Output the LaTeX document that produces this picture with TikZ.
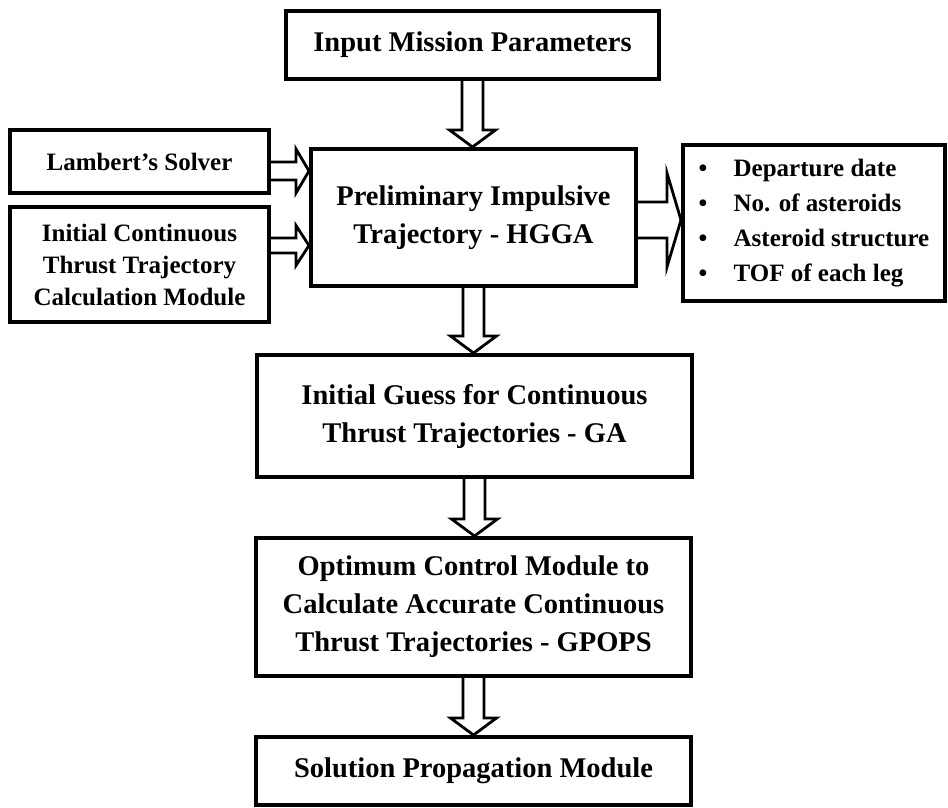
\documentclass[tikz,border=0pt]{standalone}
\usepackage{fontspec}
\setmainfont{Liberation Serif}
\usetikzlibrary{calc}
\newcommand\hollowdown[2]{%
  \draw[blockarrow] let \p1=(#1.south), \p2=(#2.north) in
    (\x1-10.5pt,\y1) -- (\x1-10.5pt,\y2+17pt) -- (\x1-23pt,\y2+17pt) -- (\x1,\y2)
    -- (\x1+23pt,\y2+17pt) -- (\x1+10.5pt,\y2+17pt) -- (\x1+10.5pt,\y1);}
\newcommand\hollowright[6]{%
  \draw[blockarrow] let \p1=($(#1.east)+(0,#3)$), \p2=(#2.west) in
    (\x1,\y1+#4pt) -- (\x2-#6pt,\y1+#4pt) -- (\x2-#6pt,\y1+#5pt) -- (\x2,\y1)
    -- (\x2-#6pt,\y1-#5pt) -- (\x2-#6pt,\y1-#4pt) -- (\x1,\y1-#4pt);}
\begin{document}
\begin{tikzpicture}[x=1pt,y=-1pt,
  box/.style={draw, line width=4pt, align=center, inner sep=0pt,
    font=\fontsize{28.5pt}{38pt}\selectfont\bfseries},
  sidebox/.style={box, font=\fontsize{25pt}{32pt}\selectfont\bfseries},
  listbox/.style={box, align=left, font=\fontsize{25pt}{35pt}\selectfont\bfseries},
  blockarrow/.style={draw, line width=2.8pt, line join=miter}]
\useasboundingbox (0,0) rectangle (948,808);
\node[box, minimum width=373pt, minimum height=68pt] (inp) at (472.5,45) {Input Mission Parameters};
\node[sidebox, minimum width=259pt, minimum height=63pt] (lam) at (139.5,161.5) {Lambert’s Solver};
\node[sidebox, minimum width=259pt, minimum height=115pt] (icm) at (139.5,264.5) {Initial Continuous\\Thrust Trajectory\\Calculation Module};
\node[box, minimum width=325pt, minimum height=137pt] (pre) at (473.5,217.5) {Preliminary Impulsive\\Trajectory - HGGA};
\node[listbox, minimum width=262pt, minimum height=156pt] (out) at (814,223)
  {\makebox[35pt][l]{•}Departure date\\\makebox[35pt][l]{•}No. of asteroids\\\makebox[35pt][l]{•}Asteroid structure\\\makebox[35pt][l]{•}TOF of each leg};
\node[box, minimum width=435pt, minimum height=122pt] (gue) at (474.5,416) {Initial Guess for Continuous\\Thrust Trajectories - GA};
\node[box, minimum width=435pt, minimum height=138pt] (opt) at (473.5,607) {Optimum Control Module to\\Calculate Accurate Continuous\\Thrust Trajectories - GPOPS};
\node[box, minimum width=435pt, minimum height=68pt] (sol) at (473.5,771) {Solution Propagation Module};
\hollowdown{inp}{pre}
\hollowdown{pre}{gue}
\hollowdown{gue}{opt}
\hollowdown{opt}{sol}
\hollowright{lam}{pre}{9.5}{9}{22}{13}
\hollowright{icm}{pre}{-19}{7.5}{20}{13}
\hollowright{pre}{out}{2.5}{18}{47}{14}
\end{tikzpicture}
\end{document}
